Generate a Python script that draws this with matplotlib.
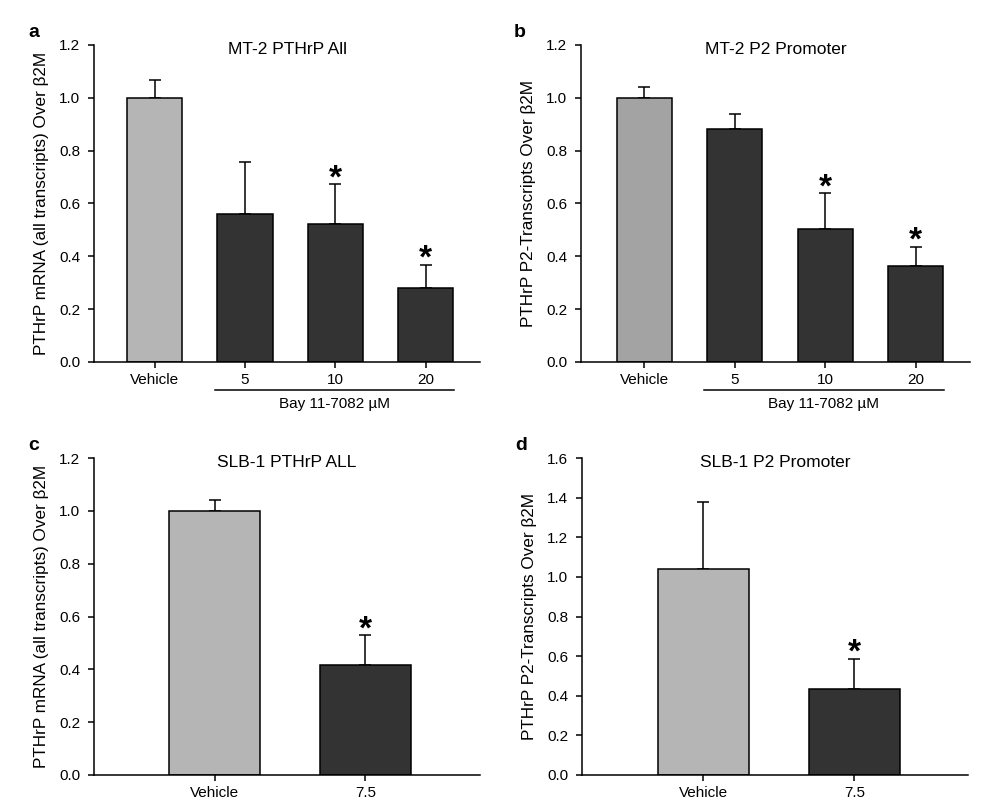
import numpy as np
import matplotlib
matplotlib.use("Agg")
import matplotlib.pyplot as plt
import matplotlib.transforms as mtransforms

plt.rcParams['font.family'] = ['Liberation Sans', 'DejaVu Sans']

# panel a: MT-2 PTHrP All
a_labels = ["Vehicle", "5", "10", "20"]
a_means = [1.0, 0.561, 0.522, 0.280]
a_tops = [1.066, 0.758, 0.673, 0.369]
a_star = [False, False, True, True]

# panel b: MT-2 P2 Promoter
b_labels = ["Vehicle", "5", "10", "20"]
b_means = [1.0, 0.881, 0.505, 0.362]
b_tops = [1.040, 0.940, 0.639, 0.437]
b_star = [False, False, True, True]

# panel c: SLB-1 PTHrP ALL
c_labels = ["Vehicle", "7.5"]
c_means = [1.0, 0.417]
c_tops = [1.041, 0.529]
c_star = [False, True]

# panel d: SLB-1 P2 Promoter
d_labels = ["Vehicle", "7.5"]
d_means = [1.039, 0.435]
d_tops = [1.378, 0.588]
d_star = [False, True]

W, H = 1002, 807
fig = plt.figure(figsize=(W / 100, H / 100), dpi=100)


def px_axes(l, r, t, b):
    return fig.add_axes([l / W, 1 - b / H, (r - l) / W, (b - t) / H])


def panel(ax, labels, means, tops, stars, colors, width, xlim, ymax, title,
          ylabel, letter, group=None):
    x = np.arange(len(labels))
    ax.bar(x, means, width=width, color=colors, edgecolor='black',
           linewidth=1.1, zorder=2)
    up = np.array(tops) - np.array(means)
    ax.errorbar(x, means, yerr=[np.zeros(len(x)), up], fmt='none',
                ecolor='black', elinewidth=1.1, capsize=4.5, capthick=1.1,
                zorder=1)
    for xi, t, s in zip(x, tops, stars):
        if s:
            ax.annotate('*', (xi, t), xytext=(0, -7.5),
                        textcoords='offset points', ha='center', va='bottom',
                        fontsize=24, fontweight='bold')
    ax.set_xlim(*xlim)
    ax.set_ylim(0, ymax)
    ax.set_yticks(np.arange(0, ymax + 0.01, 0.2))
    ax.set_yticklabels([f"{v:.1f}" for v in np.arange(0, ymax + 0.01, 0.2)])
    ax.set_xticks(x)
    ax.set_xticklabels(labels)
    for sp in ['top', 'right']:
        ax.spines[sp].set_visible(False)
    for sp in ['left', 'bottom']:
        ax.spines[sp].set_linewidth(1.1)
    ax.tick_params(axis='both', direction='out', length=4, width=1.1,
                   labelsize=11)
    ax.tick_params(axis='y', pad=6)
    ax.tick_params(axis='x', pad=4)
    ax.set_ylabel(ylabel, fontsize=12.3, labelpad=7)
    ax.text(0.5, 0.985, title, transform=ax.transAxes, ha='center',
            va='center', fontsize=12.5)
    ax.text(-0.157, 1.04, letter, transform=ax.transAxes, ha='center',
            va='center', fontsize=14, fontweight='bold')
    if group is not None:
        x0, x1, text = group
        tr = mtransforms.blended_transform_factory(ax.transData, ax.transAxes)
        ax.plot([x0, x1], [-0.088, -0.088], color='black', lw=1.1,
                transform=tr, clip_on=False)
        ax.text((x0 + x1) / 2, -0.132, text, transform=tr, ha='center',
                va='center', fontsize=11)


light = '#b5b5b5'
dark = '#333333'

ax_a = px_axes(94, 480, 45, 362)
panel(ax_a, a_labels, a_means, a_tops, a_star, [light] + [dark] * 3, 0.61,
      (-0.67, 3.6), 1.2, "MT-2 PTHrP All",
      "PTHrP mRNA (all transcripts) Over β2M", "a",
      group=(0.67, 3.31, "Bay 11-7082 µM"))

ax_b = px_axes(581, 970, 45, 362)
panel(ax_b, b_labels, b_means, b_tops, b_star, ['#a3a3a3'] + [dark] * 3, 0.61,
      (-0.70, 3.6), 1.2, "MT-2 P2 Promoter",
      "PTHrP P2-Transcripts Over β2M", "b",
      group=(0.66, 3.31, "Bay 11-7082 µM"))

ax_c = px_axes(94, 480, 458, 775)
panel(ax_c, c_labels, c_means, c_tops, c_star, [light, dark], 0.6,
      (-0.80, 1.76), 1.2, "SLB-1 PTHrP ALL",
      "PTHrP mRNA (all transcripts) Over β2M", "c")

ax_d = px_axes(582, 968, 458, 775)
panel(ax_d, d_labels, d_means, d_tops, d_star, [light, dark], 0.6,
      (-0.80, 1.75), 1.6, "SLB-1 P2 Promoter",
      "PTHrP P2-Transcripts Over β2M", "d")

fig.savefig("out.png", dpi=100)
